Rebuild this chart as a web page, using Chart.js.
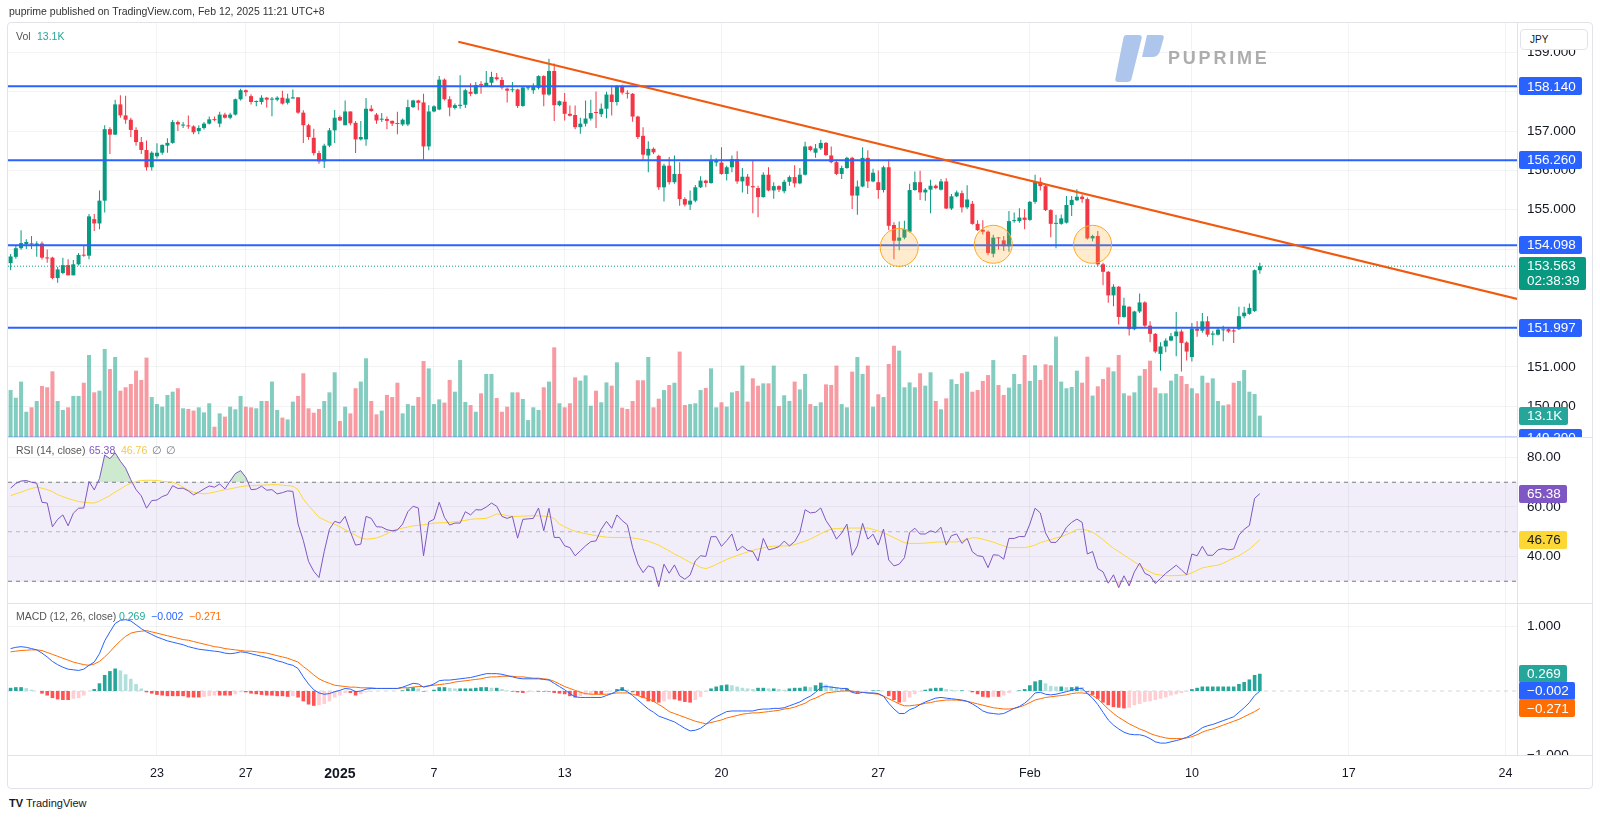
<!DOCTYPE html>
<html>
<head>
<meta charset="utf-8">
<script src="https://cdn.jsdelivr.net/npm/chart.js@4.4.1/dist/chart.umd.min.js"></script>
<style>
html,body{margin:0;padding:0;background:#fff;}
body{width:1600px;height:819px;position:relative;overflow:hidden;font-family:'Liberation Sans',Arial,sans-serif;color:#131722;}
canvas{position:absolute;left:8px;}
.t{position:absolute;white-space:nowrap;}
.sep{position:absolute;left:8px;width:1584px;height:1px;background:#E0E3EB;}
</style>
</head>
<body>
<div style="position:absolute;left:7px;top:22px;width:1586px;height:767px;border:1px solid #E0E3EB;border-radius:4px;box-sizing:border-box;"></div>
<canvas id="cMain" width="1584" height="414" style="top:23px;width:1584px;height:414px"></canvas>
<canvas id="cRsi" width="1584" height="166" style="top:437px;width:1584px;height:166px"></canvas>
<canvas id="cMacd" width="1584" height="185" style="top:603px;width:1584px;height:185px"></canvas>
<div class="sep" style="top:437px"></div>
<div class="sep" style="top:603px"></div>
<div class="sep" style="top:755px"></div>
<svg style="position:absolute;left:0;top:0" width="1600" height="100">
  <path d="M1126,35 L1139,35 Q1142.5,35 1141.6,38.5 L1131.5,79 Q1130.8,82 1127.5,82 L1118,82 Q1114.6,82 1115.4,78.6 L1123.4,38 Q1124,35 1126,35 Z" fill="#AFC6EC"/>
  <path d="M1147,35 L1161,35 Q1164.6,35 1163.6,38.6 L1160,51 Q1158.2,57 1152,57 L1142,57 Z" fill="#AFC6EC"/>
</svg>
<div class="t" style="left:1168px;top:47px;height:22px;line-height:22px;font-size:18px;font-weight:bold;color:#ADADAD;letter-spacing:2.8px">PUPRIME</div>
<div style="position:absolute;left:1520px;top:29px;width:68px;height:21px;border:1px solid #E0E3EB;border-radius:4px;box-sizing:border-box;background:#fff;font-size:10px;line-height:19px;padding-left:9px;color:#131722">JPY</div>
<div id="overlay"></div>
<script>
// ---------------- DATA ----------------
const dayTicks  = [28, 45, 63, 81, 106, 136, 166, 195, 226, 256, 286];
const dayLabels = ['23', '27', '2025', '7', '13', '20', '27', 'Feb', '10', '17', '24'];

const priceTicks      = [150, 151, 152, 153, 154, 155, 156, 157, 158, 159];
const priceTickLabels = ['150.000', '151.000', '', '', '', '155.000', '156.000', '157.000', '', '159.000'];
const rsiTicks        = [40, 60, 80];
const rsiTickLabels   = ['40.00', '60.00', '80.00'];
const macdTicks       = [1];
const macdTickLabels  = ['1.000'];

const levels = [158.140, 156.260, 154.098, 151.997, 149.200];
const trendLine = [{x: 85.65, y: 159.275}, {x: 288.3, y: 152.728}];
const circles = [{x: 170.0, y: 154.04}, {x: 188.0, y: 154.12}, {x: 207.0, y: 154.12}];
const countdown = '02:38:39';

const open = [
153.64,153.80,154.02,154.12,154.14,154.10,154.14,153.78,153.78,153.26,
153.39,153.59,153.33,153.61,153.85,153.83,154.76,154.65,155.23,157.05,
156.91,157.68,157.40,157.29,157.03,156.72,156.52,156.08,156.36,156.45,
156.63,156.70,157.23,157.14,157.14,157.12,157.00,157.08,157.19,157.30,
157.19,157.42,157.34,157.42,157.81,158.04,157.89,157.74,157.74,157.85,
157.80,157.80,157.85,157.72,157.83,157.86,157.47,157.15,156.83,156.44,
156.23,156.63,157.02,157.36,157.15,157.50,157.21,156.79,156.79,157.57,
157.42,157.29,157.31,157.26,157.19,157.17,157.17,157.61,157.78,157.73,
156.61,157.50,157.55,158.31,157.81,157.59,157.64,157.67,158.00,157.95,
158.19,158.14,158.23,158.37,158.30,158.08,158.04,158.06,157.64,158.09,
158.04,158.10,158.40,157.93,158.53,157.66,157.75,157.44,157.41,157.10,
157.19,157.32,157.47,157.43,157.57,157.93,157.74,158.14,157.97,157.95,
157.37,156.88,156.38,156.55,156.37,155.57,156.12,155.70,155.91,155.27,
155.13,155.23,155.57,155.74,155.68,156.20,156.20,155.91,156.08,156.29,
155.72,155.84,155.60,155.55,155.32,155.89,155.49,155.60,155.47,155.71,
155.83,155.67,155.89,156.61,156.45,156.56,156.70,156.38,156.21,155.91,
156.06,156.32,155.36,155.59,156.32,155.72,155.70,155.50,156.08,154.61,
154.21,154.29,154.44,155.50,155.70,155.44,155.51,155.61,155.51,155.72,
155.03,155.34,155.42,155.06,155.15,154.64,154.49,154.44,153.88,154.29,
154.22,154.07,154.71,154.71,154.80,154.74,155.20,155.71,155.60,154.99,
154.64,154.64,154.67,155.12,155.24,155.33,155.27,154.27,154.33,153.61,
153.42,152.82,153.04,152.27,152.53,151.96,152.41,152.64,152.05,151.84,
151.33,151.52,151.67,151.78,151.90,151.62,151.25,151.97,151.92,152.16,
151.82,151.82,151.93,151.96,151.93,151.96,152.29,152.35,152.42,153.46];

const high = [
153.87,154.10,154.48,154.25,154.33,154.20,154.19,153.99,153.80,153.55,
153.78,153.74,153.72,153.90,154.10,154.89,154.89,155.49,157.15,157.10,
157.80,157.91,157.90,157.34,157.10,156.85,156.76,156.49,156.69,156.66,
156.82,157.28,157.27,157.23,157.40,157.15,157.15,157.23,157.37,157.37,
157.49,157.47,157.47,157.83,158.08,158.06,157.94,157.78,157.91,157.87,
157.87,157.89,158.03,157.95,158.06,157.87,157.53,157.19,157.06,156.50,
156.68,157.08,157.54,157.40,157.78,157.50,157.26,157.26,157.84,157.66,
157.46,157.46,157.37,157.27,157.49,157.32,157.80,157.80,157.80,157.95,
157.66,157.66,158.40,158.34,157.89,157.70,158.42,158.08,158.22,158.25,
158.27,158.53,158.51,158.48,158.38,158.11,158.25,158.08,158.13,158.14,
158.22,158.42,158.42,158.84,158.72,157.78,157.97,157.65,157.65,157.34,
157.78,157.80,158.01,157.70,158.00,158.12,158.17,158.18,158.04,157.97,
157.39,157.10,156.74,156.58,156.40,156.17,156.34,156.38,156.21,155.32,
155.49,155.63,155.85,155.76,156.40,156.31,156.59,156.12,156.38,156.49,
156.06,155.91,156.25,155.61,155.95,156.08,155.70,155.62,155.76,155.87,
156.13,156.06,156.73,156.63,156.67,156.78,156.72,156.61,156.24,156.12,
156.35,156.35,155.74,156.59,156.51,156.04,156.00,156.12,156.27,154.68,
154.70,154.72,155.66,155.97,155.99,155.55,155.76,155.64,155.78,155.80,
155.40,155.49,155.49,155.62,155.22,154.73,154.73,154.47,154.36,154.30,
154.33,154.97,154.93,155.04,155.01,155.22,155.89,155.82,155.66,155.01,
154.87,154.88,155.35,155.35,155.52,155.39,155.31,154.36,154.46,153.65,
153.44,153.10,153.06,152.76,152.54,152.43,152.87,152.67,152.16,151.86,
151.63,151.73,151.86,152.40,151.95,151.65,152.12,152.16,152.37,152.29,
151.92,152.01,152.05,151.99,151.99,152.53,152.53,152.61,153.48,153.65];

const low = [
153.46,153.75,153.98,154.00,154.00,153.80,153.73,153.65,153.23,153.14,
153.36,153.33,153.33,153.58,153.80,153.74,154.46,154.50,154.93,156.42,
156.90,157.34,157.19,156.85,156.63,156.42,156.00,156.00,156.30,156.40,
156.45,156.68,157.00,157.08,157.06,156.92,156.92,157.04,157.17,157.25,
157.10,157.32,157.30,157.40,157.78,157.89,157.68,157.63,157.68,157.60,
157.38,157.76,157.68,157.68,157.83,157.44,156.70,156.78,156.38,156.17,
156.06,156.59,156.70,157.26,157.15,157.15,156.44,156.76,156.63,157.49,
157.19,157.23,157.05,157.13,156.92,157.13,157.13,157.59,157.53,156.27,
156.51,157.48,157.53,157.78,157.38,157.55,157.57,157.59,157.89,157.93,
157.95,158.13,158.15,158.29,158.06,157.73,157.99,157.59,157.62,158.04,
157.95,158.06,157.63,157.90,157.26,157.63,157.27,157.37,157.05,156.93,
157.12,157.27,157.08,157.36,157.33,157.40,157.65,157.93,157.83,157.24,
156.80,156.27,155.95,156.42,155.50,155.21,155.64,155.66,155.10,155.08,
154.99,155.19,155.55,155.57,155.66,156.10,155.89,155.74,155.95,155.66,
155.44,155.40,154.91,154.81,155.31,155.47,155.28,155.45,155.42,155.61,
155.57,155.65,155.87,156.49,156.32,156.52,156.37,156.18,155.88,155.78,
156.04,155.02,154.87,155.57,155.55,155.70,155.28,155.44,154.48,153.74,
153.97,154.25,154.42,155.48,155.25,155.23,154.91,155.52,155.49,155.02,
154.99,155.32,154.93,155.02,154.62,154.46,154.37,153.84,153.79,153.99,
153.95,153.93,154.67,154.67,154.50,154.72,155.15,155.49,154.97,154.30,
154.02,154.62,154.65,154.84,155.22,155.18,154.24,154.20,153.56,153.08,
152.63,152.54,152.08,152.25,151.80,151.93,152.37,151.99,151.63,151.35,
150.90,151.37,151.65,151.27,150.88,151.16,151.14,151.77,151.87,151.77,
151.55,151.80,151.65,151.87,151.61,151.94,152.24,152.33,152.40,153.37];

const close = [
153.81,154.02,154.15,154.18,154.12,154.14,153.78,153.76,153.26,153.48,
153.59,153.33,153.61,153.85,153.83,154.83,154.65,155.23,157.05,156.91,
157.68,157.40,157.29,157.03,156.72,156.52,156.08,156.45,156.45,156.65,
156.70,157.23,157.17,157.16,157.12,156.97,157.08,157.19,157.30,157.28,
157.42,157.34,157.42,157.81,158.04,157.99,157.74,157.76,157.85,157.80,
157.81,157.85,157.70,157.83,157.86,157.47,157.15,156.85,156.44,156.23,
156.63,157.02,157.34,157.27,157.50,157.20,156.79,156.85,157.57,157.51,
157.27,157.31,157.26,157.19,157.18,157.29,157.61,157.78,157.72,156.61,
157.50,157.63,158.31,157.81,157.60,157.66,157.67,158.04,157.95,158.17,
158.17,158.23,158.38,158.32,158.11,158.03,158.06,157.64,158.11,158.11,
158.14,158.40,157.93,158.53,157.66,157.76,157.44,157.39,157.10,157.19,
157.32,157.46,157.46,157.57,157.93,157.74,158.14,157.98,157.95,157.37,
156.85,156.40,156.55,156.46,155.57,156.12,155.70,155.91,155.27,155.13,
155.23,155.57,155.74,155.68,156.27,156.24,155.91,156.08,156.29,155.72,
155.84,155.61,155.57,155.32,155.89,155.49,155.60,155.51,155.71,155.83,
155.67,155.89,156.61,156.52,156.56,156.70,156.39,156.21,155.91,156.06,
156.32,155.36,155.59,156.32,155.72,155.94,155.50,156.08,154.59,154.21,
154.29,154.51,155.50,155.70,155.44,155.51,155.61,155.55,155.72,155.03,
155.34,155.44,155.06,155.26,154.64,154.48,154.44,153.90,154.29,154.27,
154.07,154.71,154.72,154.80,154.74,155.20,155.71,155.60,154.99,154.64,
154.66,154.78,155.12,155.25,155.33,155.27,154.27,154.33,153.61,153.42,
152.82,153.04,152.27,152.56,151.96,152.41,152.64,152.05,151.84,151.39,
151.52,151.67,151.78,151.90,151.61,151.39,151.97,151.92,152.16,151.82,
151.85,151.95,151.95,151.90,151.90,152.29,152.38,152.50,153.46,153.563];

// volume in thousands
const volume = [
28.8,24.1,34.0,15.5,18.2,22.1,31.3,30.5,40.3,22.1,
16.6,18.2,25.2,25.2,33.3,50.3,27.4,28.4,54.0,41.7,
49.1,28.4,30.5,32.5,40.7,35.0,48.7,24.5,20.2,18.6,
25.8,27.8,29.9,17.6,17.2,16.2,18.2,15.1,20.7,6.3,
14.5,12.5,18.6,17.0,25.2,18.6,18.2,17.6,22.1,22.1,
34.0,16.6,11.9,10.8,21.7,25.2,39.1,17.6,14.9,17.2,
22.1,27.4,39.7,9.8,18.6,14.5,29.9,34.0,48.3,22.1,
13.9,16.2,25.8,24.5,33.3,14.5,20.2,19.2,24.5,46.6,
42.1,20.2,23.1,21.1,35.0,27.8,47.2,21.5,19.6,15.5,
26.8,38.7,38.7,23.9,15.5,18.6,27.4,27.4,23.3,10.4,
18.2,16.6,30.5,34.0,55.0,20.7,18.2,20.7,36.6,34.6,
37.8,19.2,28.4,21.3,33.5,31.5,45.8,18.0,17.2,22.1,
34.8,34.8,49.1,18.2,23.5,28.8,31.9,33.3,52.4,19.6,
20.2,20.7,28.8,30.1,42.1,18.2,21.3,18.6,27.4,28.2,
43.8,21.7,36.0,31.5,32.9,32.9,43.8,19.0,25.6,22.1,
34.0,29.2,38.7,20.2,19.0,21.3,32.3,31.9,43.8,20.2,
18.2,40.1,49.1,38.7,43.8,18.6,26.2,24.5,44.8,56.0,
53.0,30.5,33.5,30.5,39.1,31.5,39.7,22.1,17.0,23.7,
35.4,32.5,39.1,40.1,27.8,28.8,34.4,38.0,47.2,31.9,
25.8,30.3,38.7,32.5,50.3,34.4,44.0,35.0,44.6,44.0,
61.6,34.0,29.9,30.7,40.7,33.3,49.3,25.4,31.1,35.6,
42.7,40.3,50.3,26.8,25.4,27.4,37.6,41.7,46.8,30.3,
26.8,26.8,34.6,38.7,37.4,32.5,29.9,26.8,37.6,33.3,
36.0,22.1,19.4,20.0,33.3,34.4,41.1,27.8,26.4,13.1];

const rsi = [
67.6,69.5,70.5,70.7,70.0,69.6,61.9,61.6,52.0,55.0,
56.8,52.4,57.5,59.5,59.6,70.3,66.9,71.5,81.0,79.5,
81.9,78.5,75.7,71.0,67.0,64.5,59.5,62.6,62.8,64.2,
65.0,68.6,67.5,67.6,66.5,64.9,66.0,67.3,68.5,68.0,
69.3,67.3,70.5,73.5,74.7,72.0,67.0,67.2,68.4,66.8,
67.0,65.3,65.8,66.5,66.3,53.1,46.5,38.0,34.0,31.5,
42.0,51.0,54.2,53.5,56.2,50.0,44.6,45.0,56.2,55.4,
52.0,51.9,50.8,50.4,50.7,53.1,58.1,60.3,59.6,40.3,
54.0,55.0,61.9,55.8,52.7,53.5,53.5,58.1,56.8,58.9,
58.8,60.0,61.6,60.3,56.2,55.4,56.2,47.4,55.0,55.2,
55.4,59.6,50.4,59.5,47.7,47.7,44.3,43.6,40.3,42.3,
44.3,46.0,46.3,51.0,54.2,51.4,56.8,54.5,52.8,43.6,
37.0,33.5,36.2,35.5,27.8,36.9,33.2,36.6,32.2,30.8,
32.5,38.2,40.3,40.0,48.0,48.0,44.1,46.4,49.1,42.3,
44.1,42.5,42.0,38.2,47.3,42.7,43.2,44.0,46.2,44.3,
46.0,49.7,58.9,57.6,57.9,59.6,54.5,51.4,47.0,49.5,
53.1,40.5,44.3,53.4,47.0,49.0,44.6,51.1,38.6,36.2,
36.9,39.5,49.7,51.4,49.1,49.1,50.4,49.7,51.8,44.6,
48.4,49.1,45.3,47.3,41.9,40.3,40.0,35.5,40.7,40.5,
38.9,47.3,47.3,48.1,48.0,53.1,59.5,57.6,49.5,45.7,
45.7,48.1,51.8,53.8,55.1,53.8,41.0,42.0,35.1,33.8,
29.2,32.6,27.4,32.2,28.1,33.8,37.3,33.2,32.2,29.1,
31.1,33.2,34.8,36.5,34.6,32.6,41.0,40.3,44.1,40.5,
40.5,42.7,43.2,42.7,43.0,48.6,51.0,52.5,63.5,65.38];

const rsiMa = [
64.6,65.3,66.0,66.8,67.5,68.0,67.6,67.0,66.2,65.0,
64.2,63.4,62.8,62.2,61.9,61.7,61.6,62.4,63.5,64.6,
66.0,67.3,68.6,69.6,70.3,70.7,70.8,70.8,70.7,70.4,
70.2,70.0,69.2,68.0,66.8,66.0,65.6,65.3,65.6,66.0,
66.5,67.0,67.3,67.8,68.2,68.5,68.6,68.7,68.8,68.9,
69.0,69.0,68.8,68.6,68.4,67.0,63.2,60.6,58.2,55.8,
54.8,53.8,53.0,52.0,50.8,49.7,48.6,47.5,47.0,47.2,
47.5,48.2,49.2,50.4,51.1,51.5,51.9,52.4,52.6,52.8,
53.2,53.5,53.6,53.7,53.8,54.0,54.3,54.6,55.0,55.2,
55.3,55.4,56.2,57.2,57.0,56.5,56.2,56.2,56.3,56.4,
56.5,56.4,56.3,56.2,55.3,53.1,52.0,51.0,50.2,49.7,
49.2,48.8,48.4,48.1,47.8,47.7,47.7,47.7,47.6,47.5,
47.2,46.8,46.2,45.4,44.6,43.4,42.3,41.0,39.9,38.8,
37.6,36.8,35.6,35.1,35.8,36.8,37.8,38.8,39.6,40.4,
41.1,41.8,42.5,43.0,43.5,44.0,44.2,44.2,44.3,44.3,
44.8,45.5,46.2,47.0,48.1,49.2,50.3,51.1,51.3,51.4,
51.5,51.5,51.5,51.5,51.5,51.0,50.3,49.6,48.6,47.6,
46.6,45.6,45.3,45.3,45.3,45.4,45.6,45.8,45.9,45.9,
45.9,45.9,46.3,46.9,47.6,47.5,47.0,46.4,45.8,45.0,
44.3,43.6,43.6,43.6,43.6,44.0,44.6,45.6,46.2,46.8,
47.5,48.0,48.8,49.8,50.9,51.0,50.6,49.8,48.4,46.8,
45.0,43.3,42.0,40.6,39.2,37.8,36.4,35.0,33.8,32.8,
32.5,32.3,32.2,32.3,32.4,32.6,33.4,34.4,35.4,35.8,
36.2,36.5,37.3,38.3,39.4,40.3,41.6,43.0,44.8,46.76];

const macd = [
.66,.68,.69,.68,.66,.64,.59,.53,.46,.41,
.37,.34,.33,.32,.34,.40,.45,.58,.78,.92,
1.05,1.10,1.11,1.09,1.03,.97,.92,.88,.84,.81,
.78,.76,.74,.72,.69,.67,.65,.64,.63,.62,
.61,.59,.58,.59,.61,.60,.58,.56,.54,.52,
.50,.47,.45,.42,.40,.35,.22,.11,.02,-.03,
-.05,-.04,-.01,.01,.04,.03,-.01,.00,.03,.04,
.04,.04,.04,.04,.04,.06,.09,.12,.11,.06,
.08,.11,.16,.17,.17,.18,.19,.20,.21,.23,
.25,.27,.27,.27,.26,.24,.22,.20,.19,.19,
.19,.19,.18,.17,.12,.07,.02,-.04,-.09,-.10,
-.10,-.10,-.10,-.10,-.07,-.04,.00,.03,-.01,-.07,
-.14,-.21,-.28,-.33,-.39,-.42,-.45,-.48,-.53,-.58,
-.62,-.61,-.58,-.52,-.45,-.40,-.36,-.32,-.31,-.31,
-.31,-.31,-.31,-.29,-.28,-.28,-.27,-.27,-.26,-.23,
-.20,-.17,-.12,-.08,-.02,.06,.07,.06,.05,.04,
.04,-.02,-.04,-.02,-.03,-.03,-.04,-.08,-.19,-.28,
-.35,-.35,-.29,-.26,-.21,-.17,-.14,-.11,-.10,-.11,
-.12,-.13,-.14,-.16,-.20,-.25,-.31,-.34,-.35,-.36,
-.35,-.31,-.27,-.24,-.19,-.12,-.03,-.02,-.05,-.06,
-.05,-.03,-.01,.01,.04,.04,-.04,-.11,-.21,-.33,
-.45,-.53,-.59,-.64,-.67,-.68,-.68,-.70,-.74,-.79,
-.81,-.81,-.79,-.77,-.75,-.72,-.68,-.63,-.57,-.54,
-.52,-.49,-.46,-.43,-.40,-.33,-.26,-.18,-.07,-.002];

const signal = [
.61,.62,.63,.635,.64,.64,.63,.60,.57,.54,
.51,.48,.45,.43,.41,.40,.42,.46,.53,.61,
.70,.78,.85,.90,.92,.93,.94,.92,.90,.88,
.86,.84,.82,.80,.79,.77,.75,.73,.71,.69,
.68,.66,.65,.64,.63,.62,.62,.61,.60,.59,
.57,.55,.53,.51,.48,.45,.38,.32,.25,.19,
.15,.12,.09,.08,.07,.06,.06,.05,.05,.05,
.04,.04,.04,.04,.04,.05,.05,.06,.07,.07,
.08,.09,.10,.11,.12,.14,.15,.16,.17,.18,
.19,.21,.22,.22,.23,.23,.23,.22,.22,.21,
.20,.20,.19,.18,.15,.11,.07,.04,.01,-.02,
-.04,-.05,-.05,-.05,-.05,-.04,-.03,-.03,-.03,-.05,
-.07,-.10,-.12,-.16,-.21,-.26,-.32,-.35,-.38,-.41,
-.44,-.47,-.49,-.51,-.49,-.47,-.45,-.42,-.40,-.38,
-.36,-.35,-.34,-.34,-.33,-.32,-.31,-.30,-.28,-.27,
-.25,-.22,-.19,-.14,-.11,-.07,-.03,-.02,-.01,.00,
.00,.00,-.01,-.02,-.03,-.04,-.05,-.08,-.12,-.16,
-.20,-.23,-.23,-.22,-.21,-.19,-.18,-.16,-.15,-.14,
-.14,-.14,-.15,-.16,-.18,-.20,-.22,-.24,-.26,-.27,
-.28,-.28,-.27,-.25,-.22,-.18,-.14,-.12,-.10,-.09,
-.08,-.07,-.06,-.04,-.03,-.03,-.04,-.07,-.12,-.20,
-.28,-.35,-.41,-.46,-.51,-.55,-.59,-.62,-.66,-.69,
-.71,-.73,-.74,-.74,-.74,-.73,-.71,-.68,-.64,-.61,
-.59,-.56,-.53,-.50,-.47,-.44,-.40,-.36,-.32,-.271];

const histogram = [
.05,.06,.06,.045,.02,.00,-.04,-.07,-.11,-.13,
-.14,-.14,-.12,-.11,-.07,.00,.03,.12,.25,.31,
.35,.32,.26,.19,.11,.04,-.02,-.04,-.06,-.07,
-.08,-.08,-.08,-.08,-.10,-.10,-.10,-.09,-.08,-.07,
-.07,-.07,-.07,-.05,-.02,-.02,-.04,-.05,-.06,-.07,
-.07,-.08,-.08,-.09,-.08,-.10,-.16,-.21,-.23,-.22,
-.20,-.16,-.10,-.07,-.03,-.03,-.07,-.05,-.02,-.01,
.00,.00,.00,.00,.00,.01,.04,.06,.04,-.01,
.00,.02,.06,.06,.05,.04,.04,.04,.04,.05,
.06,.06,.05,.05,.03,.01,-.01,-.02,-.03,-.02,
-.01,-.01,-.01,-.01,-.03,-.04,-.05,-.08,-.10,-.08,
-.06,-.05,-.05,-.05,-.02,.00,.03,.06,.02,-.02,
-.07,-.11,-.16,-.17,-.18,-.16,-.13,-.13,-.15,-.17,
-.18,-.14,-.09,-.01,.04,.07,.09,.10,.09,.07,
.05,.04,.03,.05,.05,.04,.04,.03,.02,.04,
.05,.05,.07,.06,.09,.13,.10,.08,.06,.04,
.04,-.02,-.03,.00,.00,.01,.01,.00,-.08,-.14,
-.18,-.17,-.10,-.05,-.01,.02,.04,.05,.05,.03,
.02,.01,.01,.00,-.02,-.05,-.09,-.10,-.09,-.09,
-.07,-.03,.00,.01,.03,.09,.15,.17,.12,.08,
.07,.07,.06,.06,.07,.06,-.02,-.06,-.12,-.18,
-.22,-.25,-.26,-.27,-.26,-.22,-.20,-.17,-.16,-.14,
-.12,-.10,-.07,-.05,-.03,-.01,.03,.05,.07,.07,
.07,.07,.07,.07,.07,.11,.14,.18,.25,.269];

// ---------------- STYLE ----------------
const FONT = "'Liberation Sans', Arial, sans-serif";
const GRID = 'rgba(42,46,57,0.06)';
const GREEN = '#089981', RED = '#F23645';
const VOL_G = 'rgba(8,153,129,0.5)', VOL_R = 'rgba(242,54,69,0.5)';
const XMIN = -0.5, XMAX = 288.2;
const N = close.length;

Chart.defaults.animation = false;
Chart.defaults.font.family = FONT;

function xAxis(show) {
  return {
    type: 'linear', min: XMIN, max: XMAX, offset: false, position: 'bottom',
    grid: {color: GRID, drawTicks: false, offset: false},
    border: {display: false},
    ticks: {
      display: show, autoSkip: false, maxRotation: 0, padding: 11, color: '#131722',
      font: (c) => {
        const b = c.tick && c.tick.label === '2025';
        return {family: FONT, size: b ? 14 : 12.5, weight: b ? 'bold' : 'normal'};
      },
      callback: (v, i) => dayLabels[i]
    },
    afterBuildTicks: (s) => { s.ticks = dayTicks.map(v => ({value: v})); },
    afterFit: (s) => { s.height = show ? 33 : 0; s.paddingLeft = 0; s.paddingRight = 0; s.paddingTop = 0; s.paddingBottom = 0; }
  };
}
function yAxis(min, max, ticks, labels) {
  return {
    type: 'linear', position: 'right', min: min, max: max,
    grid: {color: GRID, drawTicks: false},
    border: {display: true, color: '#E0E3EB'},
    ticks: {padding: 10, color: '#131722', font: {family: FONT, size: 13.5}, autoSkip: false,
      callback: (v, i) => labels[i]},
    afterBuildTicks: (s) => { s.ticks = ticks.map(v => ({value: v})); },
    afterFit: (s) => { s.width = 75; s.paddingTop = 0; s.paddingBottom = 0; s.paddingLeft = 0; s.paddingRight = 0; }
  };
}
function rr(ctx, x, y, w, h, r) {
  ctx.beginPath(); ctx.moveTo(x + r, y); ctx.lineTo(x + w - r, y); ctx.quadraticCurveTo(x + w, y, x + w, y + r);
  ctx.lineTo(x + w, y + h - r); ctx.quadraticCurveTo(x + w, y + h, x + w - r, y + h); ctx.lineTo(x + r, y + h);
  ctx.quadraticCurveTo(x, y + h, x, y + h - r); ctx.lineTo(x, y + r); ctx.quadraticCurveTo(x, y, x + r, y); ctx.closePath();
}
function tag(ctx, yc, lines, bg, fg) {
  const x = 1511;
  ctx.save();
  ctx.font = '13.5px ' + FONT;
  let w = 0; lines.forEach(t => { w = Math.max(w, ctx.measureText(t).width); });
  const h = 18 + (lines.length - 1) * 15;
  ctx.fillStyle = bg; rr(ctx, x, Math.round(yc - 9), Math.round(w + 14), h, 2); ctx.fill();
  ctx.fillStyle = fg; ctx.textAlign = 'left'; ctx.textBaseline = 'middle';
  lines.forEach((t, k) => ctx.fillText(t, x + 8, yc + k * 15 + 0.5));
  ctx.restore();
}
const fmt = (v, d) => (v < 0 ? '\u2212' : '') + Math.abs(v).toFixed(d);
const span = (y) => [{x: XMIN, y: y}, {x: XMAX, y: y}];
const idx = close.map((_, i) => i);
const isUp = idx.map(i => close[i] >= open[i]);
const common = {responsive: false, maintainAspectRatio: false, devicePixelRatio: 1, animation: false,
  layout: {padding: 0, autoPadding: false}, events: [], plugins: {legend: {display: false}, tooltip: {enabled: false}}};

// ---------------- MAIN PANE ----------------
const mainDatasets = [
  {type: 'bar', label: 'vol', xAxisID: 'x', yAxisID: 'yv', order: 10, grouped: false, barThickness: 4, inflateAmount: 0,
   data: idx.map(i => ({x: i, y: volume[i]})), backgroundColor: idx.map(i => isUp[i] ? VOL_G : VOL_R)},
  {type: 'bar', label: 'wick', xAxisID: 'x', yAxisID: 'y', order: 9, grouped: false, barThickness: 1, inflateAmount: 0,
   data: idx.map(i => ({x: i, y: [low[i], high[i]]})), backgroundColor: idx.map(i => isUp[i] ? GREEN : RED)},
  {type: 'bar', label: 'body', xAxisID: 'x', yAxisID: 'y', order: 8, grouped: false, barThickness: 4, minBarLength: 1, inflateAmount: 0,
   data: idx.map(i => ({x: i, y: [Math.min(open[i], close[i]), Math.max(open[i], close[i])]})), backgroundColor: idx.map(i => isUp[i] ? GREEN : RED)}
];
levels.forEach(l => mainDatasets.push({type: 'line', xAxisID: 'x', yAxisID: 'y', order: 6, data: span(l),
  borderColor: '#2962FF', borderWidth: 2, pointRadius: 0, fill: false}));
mainDatasets.push({type: 'line', xAxisID: 'x', yAxisID: 'y', order: 5, data: span(close[N - 1]),
  borderColor: GREEN, borderWidth: 1, borderDash: [1, 2], pointRadius: 0, fill: false});
mainDatasets.push({type: 'line', xAxisID: 'x', yAxisID: 'y', order: 4, data: trendLine,
  borderColor: '#F0590E', borderWidth: 2, pointRadius: 0, fill: false});
mainDatasets.push({type: 'bubble', xAxisID: 'x', yAxisID: 'y', order: 3,
  data: circles.map(c => ({x: c.x, y: c.y, r: 19})), backgroundColor: 'rgba(255,167,38,0.22)', borderColor: '#FFA726', borderWidth: 1, hoverRadius: 0});

new Chart(document.getElementById('cMain'), {
  type: 'bar',
  data: {datasets: mainDatasets},
  options: Object.assign({}, common, {
    scales: {
      x: xAxis(false),
      y: yAxis(149.216, 159.751, priceTicks, priceTickLabels),
      yv: {axis: 'y', type: 'linear', display: false, min: 0, max: 254}
    }
  }),
  plugins: [{id: 'tagsMain', afterDraw(chart) {
    const ctx = chart.ctx, y = chart.scales.y;
    levels.forEach(l => tag(ctx, y.getPixelForValue(l), [l.toFixed(3)], '#2962FF', '#fff'));
    tag(ctx, chart.scales.yv.getPixelForValue(volume[N - 1]), [volume[N - 1].toFixed(1) + 'K'], '#26A69A', '#fff');
    tag(ctx, y.getPixelForValue(close[N - 1]), [close[N - 1].toFixed(3), countdown], GREEN, '#fff');
  }}]
});

// ---------------- RSI PANE ----------------
const rsiPts = idx.map(i => ({x: i, y: rsi[i]}));
new Chart(document.getElementById('cRsi'), {
  type: 'line',
  data: {datasets: [
    {order: 12, data: span(70), borderColor: '#787B86', borderWidth: 1, borderDash: [4, 4], pointRadius: 0,
     fill: '+1', backgroundColor: 'rgba(126,87,194,0.1)'},
    {order: 11, data: span(30), borderColor: '#787B86', borderWidth: 1, borderDash: [4, 4], pointRadius: 0, fill: false},
    {order: 10, data: span(50), borderColor: 'rgba(120,123,134,0.5)', borderWidth: 1, borderDash: [4, 4], pointRadius: 0, fill: false},
    {order: 9, data: rsiPts, borderWidth: 0, borderColor: 'rgba(0,0,0,0)', pointRadius: 0,
     fill: {target: {value: 70}, above: 'rgba(76,175,80,0.28)', below: 'rgba(0,0,0,0)'}},
    {order: 8, data: rsiPts, borderWidth: 0, borderColor: 'rgba(0,0,0,0)', pointRadius: 0,
     fill: {target: {value: 30}, above: 'rgba(0,0,0,0)', below: 'rgba(242,54,69,0.25)'}},
    {order: 2, data: idx.map(i => ({x: i, y: rsiMa[i]})), borderColor: '#FDD835', borderWidth: 1, pointRadius: 0, fill: false, tension: 0},
    {order: 1, data: rsiPts, borderColor: '#7E57C2', borderWidth: 1, pointRadius: 0, fill: false, tension: 0}
  ]},
  options: Object.assign({}, common, {
    scales: {x: xAxis(false), y: yAxis(21.21, 88.28, rsiTicks, rsiTickLabels)}
  }),
  plugins: [{id: 'tagsRsi', afterDraw(chart) {
    const ctx = chart.ctx, y = chart.scales.y;
    tag(ctx, y.getPixelForValue(rsi[N - 1]), [rsi[N - 1].toFixed(2)], '#7E57C2', '#fff');
    tag(ctx, y.getPixelForValue(rsiMa[N - 1]), [rsiMa[N - 1].toFixed(2)], '#FDD835', '#131722');
  }}]
});

// ---------------- MACD PANE ----------------
const histColors = idx.map(i => {
  const h = histogram[i], p = i > 0 ? histogram[i - 1] : h;
  if (h >= 0) return h >= p ? '#26A69A' : '#B2DFDB';
  return h <= p ? '#FF5252' : '#FFCDD2';
});
new Chart(document.getElementById('cMacd'), {
  type: 'bar',
  data: {datasets: [
    {type: 'line', order: 10, data: span(0), borderColor: 'rgba(120,123,134,0.3)', borderWidth: 1, borderDash: [4, 4], pointRadius: 0, fill: false},
    {type: 'bar', order: 9, grouped: false, barThickness: 3.6, inflateAmount: 0,
     data: idx.map(i => ({x: i, y: histogram[i]})), backgroundColor: histColors},
    {type: 'line', order: 2, data: idx.map(i => ({x: i, y: signal[i]})), borderColor: '#FF6D00', borderWidth: 1, pointRadius: 0, fill: false, tension: 0},
    {type: 'line', order: 1, data: idx.map(i => ({x: i, y: macd[i]})), borderColor: '#2962FF', borderWidth: 1, pointRadius: 0, fill: false, tension: 0}
  ]},
  options: Object.assign({}, common, {
    scales: {x: xAxis(true), y: yAxis(-0.995, 1.369, macdTicks, macdTickLabels)}
  }),
  plugins: [{id: 'tagsMacd', afterDraw(chart) {
    const ctx = chart.ctx, y = chart.scales.y, a = chart.chartArea;
    ctx.save();
    ctx.beginPath(); ctx.rect(0, 0, chart.width, a.bottom); ctx.clip();
    ctx.font = '13.5px ' + FONT; ctx.fillStyle = '#131722'; ctx.textAlign = 'left'; ctx.textBaseline = 'middle';
    ctx.fillText(fmt(-1, 3), a.right + 10, y.getPixelForValue(-1));
    ctx.restore();
    tag(ctx, y.getPixelForValue(histogram[N - 1]), [fmt(histogram[N - 1], 3)], '#26A69A', '#fff');
    tag(ctx, y.getPixelForValue(macd[N - 1]), [fmt(macd[N - 1], 3)], '#2962FF', '#fff');
    tag(ctx, y.getPixelForValue(signal[N - 1]), [fmt(signal[N - 1], 3)], '#FF6D00', '#fff');
  }}]
});

// ---------------- TEXT OVERLAYS ----------------
const ov = document.getElementById('overlay');
function addText(txt, left, cy, size, color, weight) {
  const d = document.createElement('div');
  d.className = 't'; d.textContent = txt;
  const H = Math.round(size * 1.4);
  d.style.left = left + 'px'; d.style.top = (cy - H / 2) + 'px'; d.style.height = H + 'px'; d.style.lineHeight = H + 'px';
  d.style.fontSize = size + 'px'; d.style.color = color; if (weight) d.style.fontWeight = weight;
  ov.appendChild(d);
}
addText('puprime published on TradingView.com, Feb 12, 2025 11:21 UTC+8', 9, 11, 10.5, '#333');
addText('Vol', 16, 36, 10.5, '#555');
addText(volume[N - 1].toFixed(1) + 'K', 37, 36, 10.5, '#26A69A');
addText('RSI (14, close)', 16, 450, 10.5, '#555');
addText(rsi[N - 1].toFixed(2), 89, 450, 10.5, '#7E57C2');
addText(rsiMa[N - 1].toFixed(2), 121, 450, 10.5, '#F2C94C');
addText('\u2205', 152, 450, 10.5, '#787B86');
addText('\u2205', 166, 450, 10.5, '#787B86');
addText('MACD (12, 26, close)', 16, 616, 10.5, '#555');
addText(fmt(histogram[N - 1], 3), 119, 616, 10.5, '#22AB94');
addText(fmt(macd[N - 1], 3), 151, 616, 10.5, '#2962FF');
addText(fmt(signal[N - 1], 3), 189, 616, 10.5, '#FF6D00');
addText('TV', 9, 803, 11, '#131722', 'bold');
addText('TradingView', 26, 803, 11, '#131722');
</script>
</body>
</html>
